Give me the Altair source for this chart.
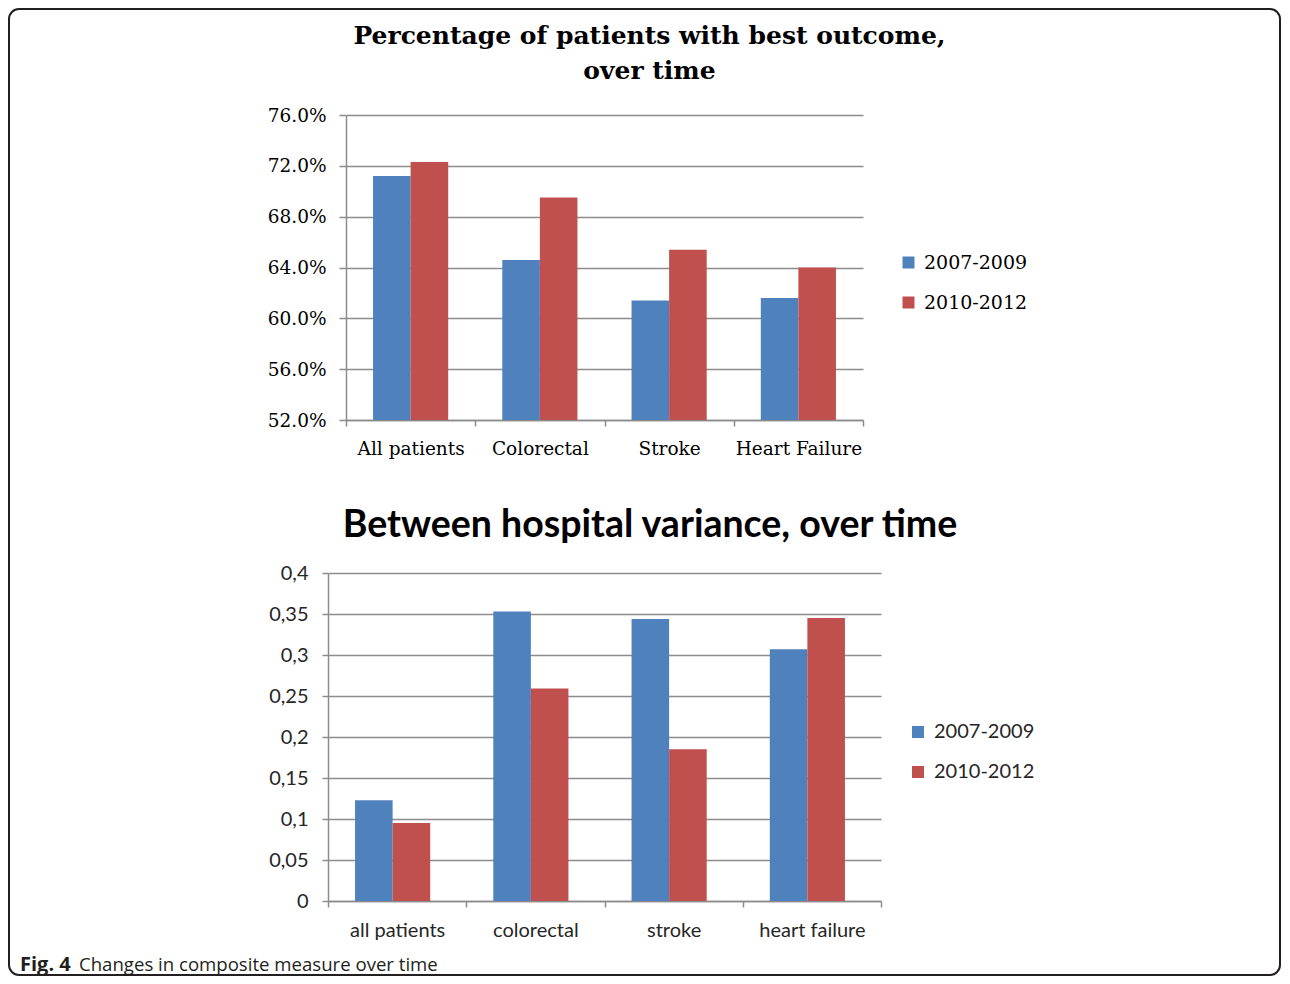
import altair as alt
import pandas as pd

series = ["2007-2009", "2010-2012"]
colors = ["#4F81BD", "#C0504D"]

categories_top = ["All patients", "Colorectal", "Stroke", "Heart Failure"]
top_2007 = [0.712, 0.646, 0.614, 0.616]
top_2010 = [0.723, 0.695, 0.654, 0.640]
top_ticks = [0.52, 0.56, 0.60, 0.64, 0.68, 0.72, 0.76]
top_title = ["Percentage of patients with best outcome,", "over time"]

categories_bottom = ["all patients", "colorectal", "stroke", "heart failure"]
bottom_2007 = [0.123, 0.353, 0.344, 0.307]
bottom_2010 = [0.095, 0.259, 0.185, 0.345]
bottom_ticks = [0, 0.05, 0.1, 0.15, 0.2, 0.25, 0.3, 0.35, 0.4]
bottom_title = "Between hospital variance, over time"

caption_bold = "Fig. 4"
caption_text = "Changes in composite measure over time"


def make_df(cats, a, b):
    rows = []
    for c, v1, v2 in zip(cats, a, b):
        rows.append({"cat": c, "period": series[0], "value": v1})
        rows.append({"cat": c, "period": series[1], "value": v2})
    return pd.DataFrame(rows)


df_top = make_df(categories_top, top_2007, top_2010)
df_bottom = make_df(categories_bottom, bottom_2007, bottom_2010)

GRID = "#8c8c8c"

SERIF = "DejaVu Serif"
SANS = "Lato"

top = alt.Chart(df_top).mark_bar().encode(
    x=alt.X("cat:N", sort=categories_top,
            scale=alt.Scale(paddingInner=0, paddingOuter=0),
            axis=alt.Axis(title=None, labelAngle=0, tickBand="extent", grid=False,
                          labelFont=SERIF, labelFontSize=18.5, labelColor="#000000",
                          labelPadding=13, tickSize=6, tickColor=GRID, tickWidth=1.5,
                          domainColor=GRID, domainWidth=1.5)),
    xOffset=alt.XOffset("period:N", sort=series,
                        scale=alt.Scale(paddingInner=0, paddingOuter=0.72)),
    y=alt.Y("value:Q", scale=alt.Scale(domain=[0.52, 0.76], zero=False, nice=False),
            axis=alt.Axis(title=None, values=top_ticks, format=".1%",
                          labelFont=SERIF, labelFontSize=18.5, labelColor="#000000",
                          labelPadding=13, tickSize=7, tickColor=GRID, tickWidth=1.5,
                          domainColor=GRID, domainWidth=1.5,
                          grid=True, gridColor=GRID, gridWidth=1.5)),
    y2=alt.datum(0.52),
    color=alt.Color("period:N", scale=alt.Scale(domain=series, range=colors),
                    legend=alt.Legend(title=None, orient="none", legendX=553, legendY=138,
                                      padding=0, symbolType="square", symbolSize=144,
                                      symbolStrokeWidth=0, labelFont=SERIF,
                                      labelFontSize=19, labelColor="#000000",
                                      labelOffset=6, rowPadding=20)),
).properties(
    width=517, height=305,
    title=alt.TitleParams(text=top_title, font=SERIF, fontSize=25, fontWeight="bold",
                          color="#000000", anchor="middle", frame="group", dx=45,
                          offset=22, lineHeight=35),
)

bars_bottom = alt.Chart(df_bottom).mark_bar().encode(
    x=alt.X("cat:N", sort=categories_bottom,
            scale=alt.Scale(paddingInner=0, paddingOuter=0),
            axis=alt.Axis(title=None, labelAngle=0, tickBand="extent", grid=False,
                          labelFont=SANS, labelFontSize=20, labelColor="#262626",
                          labelPadding=13, tickSize=6, tickColor=GRID, tickWidth=1.5,
                          domainColor=GRID, domainWidth=1.5)),
    xOffset=alt.XOffset("period:N", sort=series,
                        scale=alt.Scale(paddingInner=0, paddingOuter=0.75)),
    y=alt.Y("value:Q", scale=alt.Scale(domain=[0, 0.4], nice=False),
            axis=alt.Axis(title=None, values=bottom_ticks, format="~g",
                          labelExpr="replace(datum.label, '.', ',')",
                          labelFont=SANS, labelFontSize=20, labelColor="#262626",
                          labelPadding=14, tickSize=6, tickColor=GRID, tickWidth=1.5,
                          domainColor=GRID, domainWidth=1.5,
                          grid=True, gridColor=GRID, gridWidth=1.5)),
    color=alt.Color("period:N", scale=alt.Scale(domain=series, range=colors),
                    legend=alt.Legend(title=None, orient="none", legendX=580, legendY=149,
                                      padding=0, symbolType="square", symbolSize=144,
                                      symbolStrokeWidth=0, labelFont=SANS,
                                      labelFontSize=20, labelColor="#262626",
                                      labelOffset=6, rowPadding=20)),
)

title_b = alt.Chart(pd.DataFrame({"t": [bottom_title]})).mark_text(
    align="center", baseline="alphabetic", font=SANS, fontSize=37.5,
    fontWeight="bold", color="#000000"
).encode(x=alt.value(322), y=alt.value(-36), text="t:N")

cap1 = alt.Chart(pd.DataFrame({"t": [caption_bold]})).mark_text(
    align="left", baseline="alphabetic", font="Open Sans", fontSize=20,
    fontWeight="bold", color="#231f20"
).encode(x=alt.value(-308), y=alt.value(398), text="t:N")

cap2 = alt.Chart(pd.DataFrame({"t": [caption_text]})).mark_text(
    align="left", baseline="alphabetic", font="Open Sans", fontSize=18.6,
    color="#231f20"
).encode(x=alt.value(-249), y=alt.value(398), text="t:N")

frame = alt.Chart(pd.DataFrame({"f": [0]})).mark_rect(
    fillOpacity=0, stroke="#231f20", strokeWidth=2, cornerRadius=10
).encode(x=alt.value(-319), x2=alt.value(952), y=alt.value(-564), y2=alt.value(402))

bottom = alt.layer(bars_bottom, title_b, cap1, cap2, frame).properties(
    width=553, height=328,
)

chart = alt.vconcat(top, bottom, spacing=153, bounds="flush", center=True).resolve_scale(
    color="independent"
).resolve_legend(color="independent").properties(
    padding=0, background="white"
).configure_view(strokeWidth=0)

chart.save("out.html", embed_options={"renderer": "svg", "actions": False})
